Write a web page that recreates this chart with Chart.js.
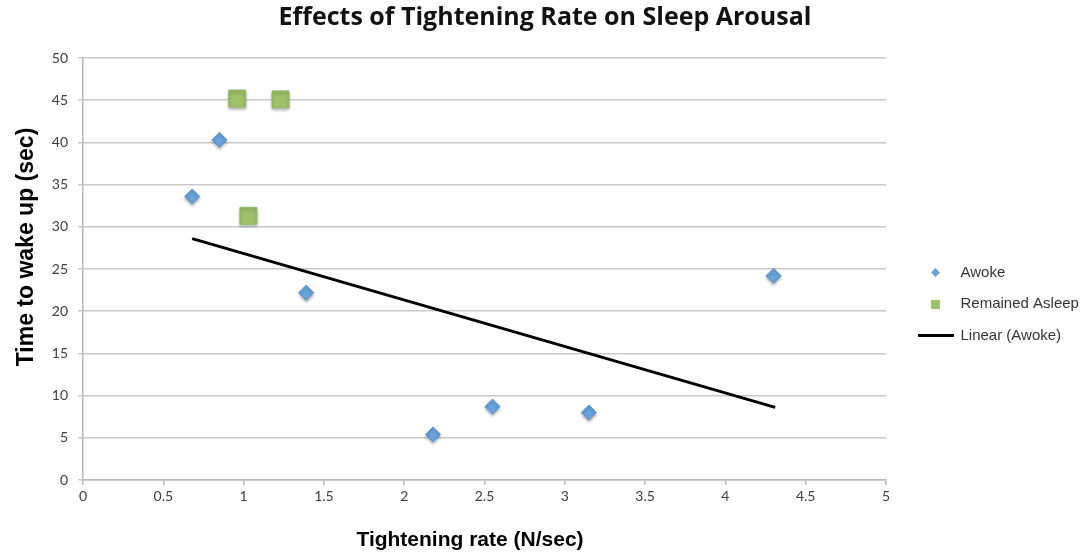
<!DOCTYPE html>
<html>
<head>
<meta charset="utf-8">
<title>Effects of Tightening Rate on Sleep Arousal</title>
<script src="https://cdn.jsdelivr.net/npm/chart.js@4.4.1/dist/chart.umd.min.js"></script>
<style>
    html, body { margin: 0; padding: 0; background: #fff; }
</style>
</head>
<body>
<canvas id="chart" width="1090" height="554"></canvas>
<script>
// ===== data =====
const awokeX = [0.68, 0.85, 1.39, 2.18, 2.55, 3.15, 4.30];
const awokeY = [33.6, 40.3, 22.2, 5.4, 8.7, 8.0, 24.2];

const asleepX = [0.96, 1.23, 1.03];
const asleepY = [45.2, 45.1, 31.3];

// trendline end points (Linear (Awoke))
const trendX = [0.68, 4.31];
const trendY = [28.6, 8.6];

const seriesNames = ['Awoke', 'Remained Asleep', 'Linear (Awoke)'];
const chartTitle = 'Effects of Tightening Rate on Sleep Arousal';
const xTitle = 'Tightening rate (N/sec)';
const yTitle = 'Time to wake up (sec)';

const BLUE = '#6aa2dc';
const GREEN = '#9fc169';

const toPoints = (xs, ys) => xs.map((x, i) => ({ x, y: ys[i] }));

// small legend icons (so the wide line swatch does not stretch the markers)
function makeIcon(w, h, paint) {
    const cv = document.createElement('canvas');
    cv.width = w;
    cv.height = h;
    paint(cv.getContext('2d'), w, h);
    return cv;
}
const legendIcons = [
    makeIcon(9, 9, (c, w, h) => {
        c.fillStyle = BLUE;
        c.beginPath();
        c.moveTo(w / 2, 0); c.lineTo(w, h / 2); c.lineTo(w / 2, h); c.lineTo(0, h / 2);
        c.closePath();
        c.fill();
    }),
    makeIcon(9, 9, (c, w, h) => { c.fillStyle = GREEN; c.fillRect(0, 0, w, h); }),
    makeIcon(36, 3, (c, w, h) => { c.fillStyle = '#000'; c.fillRect(0, 0, w, h); })
];

// Axis titles sit off-centre in the original, so they are drawn here
const axisTitles = {
    id: 'axisTitles',
    afterDraw(chart) {
        const c = chart.ctx;
        c.save();
        c.fillStyle = '#000';
        c.textAlign = 'center';
        c.textBaseline = 'middle';
        c.font = 'bold 21px "Liberation Sans", Arial, sans-serif';
        c.fillText(xTitle, 470, 540);
        c.font = 'bold 23px "Liberation Sans", Arial, sans-serif';
        c.translate(27, 247);
        c.rotate(-Math.PI / 2);
        c.fillText(yTitle, 0, 0);
        c.restore();
    }
};

// Legend: fixed width, items nudged like the original
const legendTweak = {
    id: 'legendTweak',
    afterInit(chart) {
        const lg = chart.legend;
        const fit = lg.fit;
        lg.fit = function () { fit.call(this); this.width = 204; };
        const draw = lg.draw;
        lg.draw = function () {
            const c = this.ctx;
            c.save();
            c.translate(15.5, 27);
            draw.call(this);
            c.restore();
        };
    }
};

// soft drop shadow under the markers
const markerShadow = {
    id: 'markerShadow',
    beforeDatasetDraw(chart, args) {
        if (args.index > 1) return;
        const c = chart.ctx;
        c.save();
        c.shadowColor = 'rgba(0,0,0,0.3)';
        c.shadowBlur = 3;
        c.shadowOffsetY = 2;
    },
    afterDatasetDraw(chart, args) {
        if (args.index > 1) return;
        chart.ctx.restore();
    }
};

const tickFont = { family: 'Lato, "Open Sans", sans-serif', size: 14 };

new Chart(document.getElementById('chart').getContext('2d'), {
    type: 'scatter',
    data: {
        datasets: [{
            label: seriesNames[0],
            data: toPoints(awokeX, awokeY),
            pointStyle: 'rectRot',
            pointRadius: 7.5,
            pointBackgroundColor: BLUE,
            pointBorderColor: '#5a92cf',
            pointBorderWidth: 1
        }, {
            label: seriesNames[1],
            data: toPoints(asleepX, asleepY),
            pointStyle: 'rect',
            pointRadius: 12,
            pointBackgroundColor: GREEN,
            pointBorderColor: '#95b960',
            pointBorderWidth: 1
        }, {
            type: 'line',
            label: seriesNames[2],
            data: toPoints(trendX, trendY),
            showLine: true,
            borderColor: '#000',
            borderWidth: 3,
            pointRadius: 0
        }]
    },
    options: {
        responsive: false,
        animation: false,
        events: [],
        layout: { padding: 0 },
        scales: {
            x: {
                type: 'linear',
                min: 0,
                max: 5,
                afterFit: (s) => { s.height = 74; },
                ticks: { stepSize: 0.5, color: '#404040', font: tickFont, padding: 3, callback: (v) => v },
                grid: { drawOnChartArea: false, color: '#b8b8b8', tickLength: 5, lineWidth: 1.5 },
                border: { color: '#b8b8b8', width: 1.5 }
            },
            y: {
                min: 0,
                max: 50,
                afterFit: (s) => { s.width = 83; },
                ticks: { stepSize: 5, color: '#404040', font: tickFont, padding: 10 },
                grid: { color: '#c9c9c9', tickLength: 5, lineWidth: 1.5 },
                border: { color: '#b8b8b8', width: 1.5 }
            }
        },
        plugins: {
            title: {
                display: true,
                text: chartTitle,
                color: '#111',
                font: { family: '"Open Sans", Lato, sans-serif', size: 25, weight: 'bold' },
                padding: { top: 3, bottom: 25 }
            },
            legend: {
                position: 'right',
                labels: {
                    usePointStyle: true,
                    pointStyleWidth: 35,
                    padding: 16.5,
                    color: '#333',
                    font: { family: '"Liberation Sans", Arial, sans-serif', size: 15 },
                    generateLabels(chart) {
                        const items = Chart.defaults.plugins.legend.labels.generateLabels(chart);
                        items.forEach((it, i) => { it.pointStyle = legendIcons[i]; });
                        return items;
                    }
                }
            },
            tooltip: { enabled: false }
        }
    },
    plugins: [axisTitles, legendTweak, markerShadow]
});
</script>
</body>
</html>
